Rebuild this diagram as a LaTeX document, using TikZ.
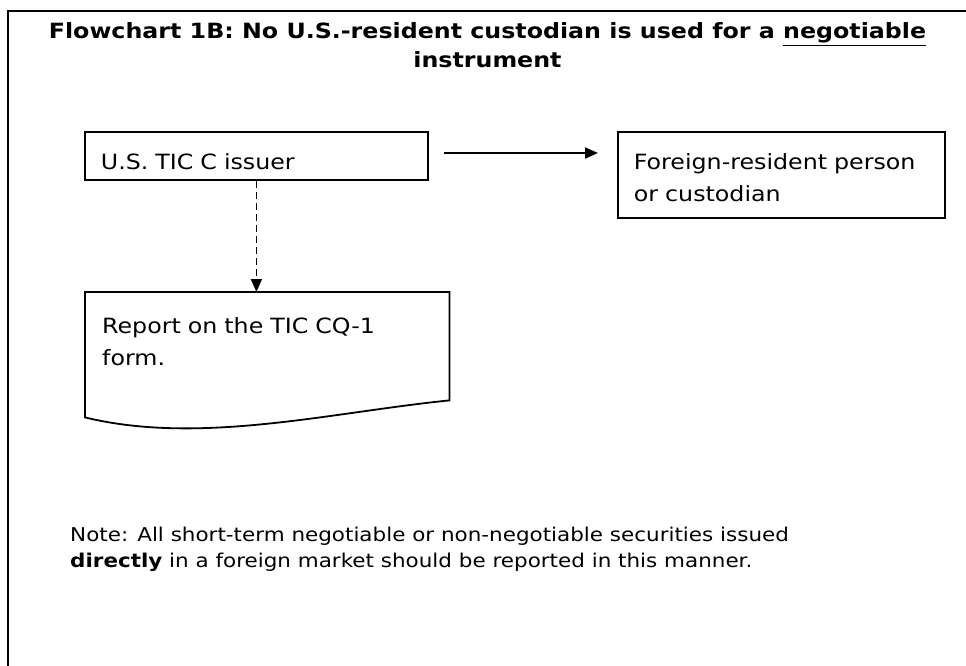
\documentclass[tikz,border=0pt]{standalone}
\usepackage{fontspec}
\setmainfont{DejaVu Sans}[FakeStretch=1.13]
\usetikzlibrary{arrows.meta}
\tikzset{
  box/.style={draw, line width=1.8pt, anchor=north west, inner ysep=0pt, align=left},
  txt/.style={inner sep=0pt, align=left},
  conn/.style={line width=1.8pt, -{Triangle[length=13pt,width=11pt]}},
  dconn/.style={line width=1.8pt, dash pattern=on 7pt off 4pt, -{Triangle[length=13pt,width=11pt]}}
}
\begin{document}
\begin{tikzpicture}[x=1pt,y=-1pt, font=\fontsize{21}{32}\selectfont]
\useasboundingbox (0,0) rectangle (966,666);
% outer frame
\draw[line width=2pt] (8,690) -- (8,11) -- (990,11);
% title
\node[txt, align=center, anchor=base, font=\bfseries\fontsize{21}{29}\selectfont] (title) at (487.5,68)
  {Flowchart 1B: No U.S.-resident custodian is used for a \underline{negotiable}\\ instrument};
% boxes
\node[box, inner xsep=16pt, text width=311pt, text height=38pt, text depth=10pt] (b1) at (84,131) {U.S. TIC C issuer};
\node[box, inner xsep=16pt, text width=295pt, text height=38pt, text depth=48pt] (b2) at (617,131) {Foreign-resident person\\or custodian};
\node[txt, anchor=north west, inner xsep=17pt, text width=330pt, text height=41pt, text depth=84pt] (r) at (85,292) {Report on the TIC CQ-1\\form.};
\draw[line width=1.8pt] (r.south west) -- (r.north west) -- (r.north east) -- ([yshift=17pt]r.south east)
  .. controls ([xshift=-119pt,yshift=5pt]r.south east) and ([xshift=115pt,yshift=-28pt]r.south west) .. (r.south west) -- cycle;
% connectors
\coordinate (a1) at (444,153);
\coordinate (a2) at (598,153);
\draw[conn] (a1) -- (a2);
\draw[dconn] (b1.south) -- (b1.south |- r.north);
% note
\node[txt, anchor=base west, font=\fontsize{19}{26}\selectfont] (note) at (70,567)
  {Note: All short-term negotiable or non-negotiable securities issued\\\textbf{directly} in a foreign market should be reported in this manner.};
\end{tikzpicture}
\end{document}
